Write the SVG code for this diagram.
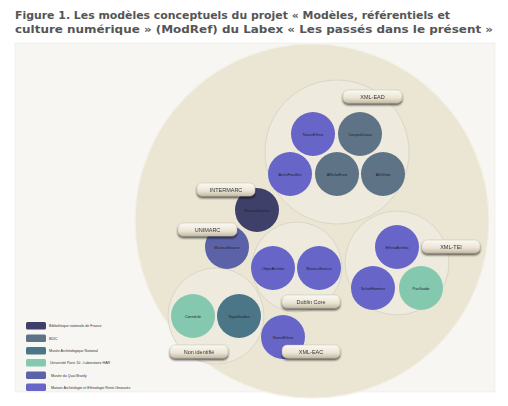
<svg xmlns="http://www.w3.org/2000/svg" width="508" height="406" viewBox="0 0 508 406">
<defs>
<linearGradient id="pill" x1="0" y1="0" x2="0" y2="1">
<stop offset="0" stop-color="#fbf9f3"/>
<stop offset="0.6" stop-color="#ebe5d6"/>
<stop offset="1" stop-color="#c6bca5"/>
</linearGradient>
<filter id="sh" x="-20%" y="-40%" width="140%" height="200%">
<feGaussianBlur in="SourceAlpha" stdDeviation="0.8"/>
<feOffset dx="0" dy="1.5"/>
<feComponentTransfer><feFuncA type="linear" slope="0.65"/></feComponentTransfer>
<feMerge><feMergeNode/><feMergeNode in="SourceGraphic"/></feMerge>
</filter>
</defs>
<style>
.title{font-family:"DejaVu Sans",Verdana,sans-serif;font-weight:bold;font-size:10.5px;fill:#555}
.grp{fill:#eeeadd;stroke:#d3cdbd;stroke-width:0.7}
.node text{font-family:"Liberation Sans",Arial,sans-serif;font-size:4px;fill:#1e1e2a;text-anchor:middle}
.pill rect{fill:url(#pill);stroke:#b9b09a;stroke-width:0.4}
.pill text{font-family:"Liberation Sans",Arial,sans-serif;font-size:5.5px;fill:#333;text-anchor:middle}
.leg text{font-family:"Liberation Sans",Arial,sans-serif;font-size:3.6px;fill:#333}
.bnf{fill:#3f4069}
.bdic{fill:#5f7387}
.man{fill:#4b7687}
.p10{fill:#84c8b0}
.qb{fill:#5b62a8}
.mae{fill:#6766c8}
</style>
<rect width="508" height="406" fill="#ffffff"/>
<text class="title" x="15" y="18.5" textLength="435" lengthAdjust="spacingAndGlyphs">Figure 1. Les modèles conceptuels du projet « Modèles, référentiels et</text>
<text class="title" x="15" y="33" textLength="478" lengthAdjust="spacingAndGlyphs">culture numérique » (ModRef) du Labex « Les passés dans le présent »</text>
<rect x="15" y="43" width="480" height="349" fill="#f7f6f2" stroke="#ecebe6" stroke-width="0.6"/>
<circle id="outer" cx="312" cy="221" r="177" fill="#ebe5d4" stroke="#f4f0e6" stroke-width="1.2"/>

<g id="group-ead"><circle class="grp" cx="337" cy="152" r="72"/></g>
<g id="group-dc"><circle class="grp" cx="297" cy="267" r="45"/></g>
<g id="group-tei"><circle class="grp" cx="397" cy="263" r="52"/></g>
<g id="group-ni"><circle class="grp" cx="216" cy="316" r="48"/></g>

<g id="n-naissethno-ead" class="node"><circle class="mae" cx="313" cy="134" r="22"/><text x="313" y="135.5">NaissEthno</text></g>
<g id="n-corpusdraux" class="node"><circle class="bdic" cx="360" cy="134" r="22"/><text x="360" y="135.5">CorpusDraux</text></g>
<g id="n-archifouilles" class="node"><circle class="mae" cx="290" cy="174" r="22"/><text x="290" y="175.5">ArchiFouilles</text></g>
<g id="n-afficheeuro" class="node"><circle class="bdic" cx="337" cy="174" r="22"/><text x="337" y="175.5">AfficheEuro</text></g>
<g id="n-afrivisio" class="node"><circle class="bdic" cx="383" cy="174" r="22"/><text x="383" y="175.5">AfriVisio</text></g>

<g id="n-musico-bnf" class="node"><circle class="bnf" cx="257" cy="210" r="22"/><text x="257" y="211.5">MusicoSource</text></g>
<g id="n-musico-qb" class="node"><circle class="qb" cx="227" cy="247" r="22"/><text x="227" y="248.5">MusicoSource</text></g>

<g id="n-objetarcheo" class="node"><circle class="mae" cx="273" cy="268" r="22"/><text x="273" y="269.5">ObjetArchéo</text></g>
<g id="n-musico-dc" class="node"><circle class="mae" cx="319" cy="268" r="22"/><text x="319" y="269.5">MusicoSource</text></g>

<g id="n-ethnoarcheo" class="node"><circle class="mae" cx="397" cy="247" r="22"/><text x="397" y="248.5">EthnoArchéo</text></g>
<g id="n-scholhomere" class="node"><circle class="mae" cx="373" cy="288" r="22"/><text x="373" y="289.5">ScholHomère</text></g>
<g id="n-parguide" class="node"><circle class="p10" cx="421" cy="288" r="22"/><text x="421" y="289.5">ParGuide</text></g>

<g id="n-cornecle" class="node"><circle class="p10" cx="193" cy="316" r="22"/><text x="193" y="317.5">Cornécle</text></g>
<g id="n-topoguides" class="node"><circle class="man" cx="239" cy="316" r="22"/><text x="239" y="317.5">TopoGuides</text></g>

<g id="n-naissethno-eac" class="node"><circle class="mae" cx="283" cy="337" r="22"/><text x="283" y="338.5">NaissEthno</text></g>

<g id="connectors"></g>

<g id="label-ead" class="pill" filter="url(#sh)"><rect x="343" y="90" width="59" height="13" rx="5"/><text x="372.5" y="98.5">XML-EAD</text></g>
<g id="label-intermarc" class="pill" filter="url(#sh)"><rect x="197" y="183" width="58" height="13" rx="5"/><text x="226" y="191.5">INTERMARC</text></g>
<g id="label-unimarc" class="pill" filter="url(#sh)"><rect x="178" y="223" width="59" height="13" rx="5"/><text x="207.5" y="231.5">UNIMARC</text></g>
<g id="label-tei" class="pill" filter="url(#sh)"><rect x="422" y="240" width="58" height="13" rx="5"/><text x="451" y="248.5">XML-TEI</text></g>
<g id="label-dc" class="pill" filter="url(#sh)"><rect x="282" y="295" width="58" height="13" rx="5"/><text x="311" y="303.5">Dublin Core</text></g>
<g id="label-ni" class="pill" filter="url(#sh)"><rect x="170" y="345" width="58" height="13" rx="5"/><text x="199" y="353.5">Non identifié</text></g>
<g id="label-eac" class="pill" filter="url(#sh)"><rect x="282" y="345" width="58" height="13" rx="5"/><text x="311" y="353.5">XML-EAC</text></g>

<g id="legend" class="leg">
<rect class="bnf" x="26" y="322" width="20" height="7.5" rx="1.5"/><text x="49" y="327.2">Bibliothèque nationale de France</text>
<rect class="bdic" x="26" y="334.5" width="20" height="7.5" rx="1.5"/><text x="49" y="339.7">BDIC</text>
<rect class="man" x="26" y="347" width="20" height="7.5" rx="1.5"/><text x="49" y="352.2">Musée Archéologique National</text>
<rect class="p10" x="26" y="359" width="20" height="7.5" rx="1.5"/><text x="50" y="364.2">Université Paris 10 - Laboratoire HAR</text>
<rect class="qb" x="26" y="371.5" width="20" height="7.5" rx="1.5"/><text x="51" y="376.7">Musée du Quai Branly</text>
<rect class="mae" x="26" y="383.5" width="20" height="7.5" rx="1.5"/><text x="51" y="388.7">Maison Archéologie et Ethnologie René-Ginouvès</text>
</g>
</svg>
